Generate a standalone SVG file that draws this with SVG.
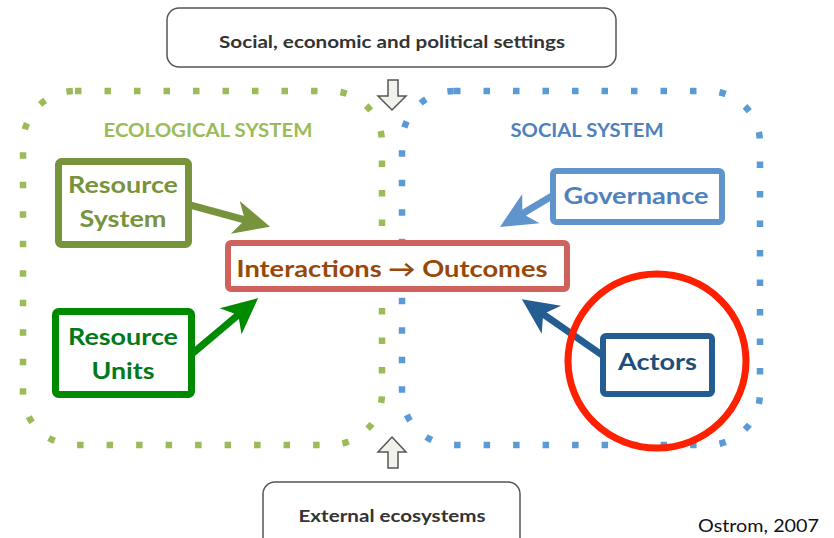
<svg xmlns="http://www.w3.org/2000/svg" width="834" height="538" viewBox="0 0 834 538">
<style>
.t{font-family:Lato,"Open Sans","Liberation Sans",sans-serif;font-weight:bold;text-anchor:middle}
.dot{fill:none;stroke-width:6.5;stroke-dasharray:6.5 23}
.box{fill:#fff}
.ctx{fill:#fff;stroke:#555;stroke-width:1.5}
.blk{fill:#f2f2ec;stroke:#555;stroke-width:1.5}
</style>
<defs>
<marker id="hOl" markerUnits="userSpaceOnUse" viewBox="-16 -18 40 36" markerWidth="40" markerHeight="36" refX="0" refY="0" orient="auto"><path d="M22,0 L-14,-17 L-4,0 L-14,17 Z" fill="#77933c"/></marker>
<marker id="hGr" markerUnits="userSpaceOnUse" viewBox="-16 -18 40 36" markerWidth="40" markerHeight="36" refX="0" refY="0" orient="auto"><path d="M22,0 L-14,-17 L-4,0 L-14,17 Z" fill="#008a00"/></marker>
<marker id="hGv" markerUnits="userSpaceOnUse" viewBox="-16 -18 40 36" markerWidth="40" markerHeight="36" refX="0" refY="0" orient="auto"><path d="M22,0 L-14,-17 L-4,0 L-14,17 Z" fill="#5f94cd"/></marker>
<marker id="hAc" markerUnits="userSpaceOnUse" viewBox="-16 -18 40 36" markerWidth="40" markerHeight="36" refX="0" refY="0" orient="auto"><path d="M22,0 L-14,-17 L-4,0 L-14,17 Z" fill="#235d92"/></marker>
</defs>
<rect width="834" height="538" fill="#fff"/>

<g id="ecological-system">
<rect class="dot" x="23" y="91" width="359" height="354" rx="52" stroke="#9bbb59"/>
<text class="t" x="208" y="137" font-size="19" fill="#9bbb59" textLength="209" lengthAdjust="spacingAndGlyphs">ECOLOGICAL SYSTEM</text>
</g>
<g id="social-system">
<rect class="dot" x="402" y="91" width="358" height="354" rx="52" stroke="#5b9bd5"/>
<text class="t" x="587" y="137" font-size="19" fill="#4f81bd" textLength="153" lengthAdjust="spacingAndGlyphs">SOCIAL SYSTEM</text>
</g>

<g id="settings">
<rect class="ctx" x="167" y="8" width="449" height="59" rx="12"/>
<text class="t" x="392" y="48" font-size="17" fill="#333" textLength="346" lengthAdjust="spacingAndGlyphs">Social, economic and political settings</text>
</g>
<g id="external-ecosystems">
<rect class="ctx" x="263" y="482" width="257" height="70" rx="12"/>
<text class="t" x="392" y="522" font-size="17" fill="#333" textLength="187" lengthAdjust="spacingAndGlyphs">External ecosystems</text>
</g>

<g id="connectors">
<path class="blk" d="M388,80 H398 V96 H406 L392,110 L378,96 H388 Z"/>
<path class="blk" d="M392,437 L406,452 H398 V468 H388 V452 H378 Z"/>
<line x1="190" y1="205" x2="248.8" y2="221" stroke="#77933c" stroke-width="7" marker-end="url(#hOl)"/>
<line x1="193" y1="353" x2="241.3" y2="312.3" stroke="#008a00" stroke-width="7" marker-end="url(#hGr)"/>
<line x1="552" y1="196" x2="518.9" y2="215.7" stroke="#5f94cd" stroke-width="7" marker-end="url(#hGv)"/>
<line x1="602" y1="355" x2="539.9" y2="311.8" stroke="#235d92" stroke-width="7" marker-end="url(#hAc)"/>
</g>

<g id="resource-system">
<rect class="box" x="58.5" y="161.5" width="130" height="83" rx="3" stroke="#77933c" stroke-width="7"/>
<text class="t" x="123" y="193" font-size="23" fill="#77933c" textLength="110" lengthAdjust="spacingAndGlyphs">Resource</text>
<text class="t" x="123" y="227" font-size="23" fill="#77933c" textLength="87" lengthAdjust="spacingAndGlyphs">System</text>
</g>
<g id="resource-units">
<rect class="box" x="55.5" y="311.5" width="136" height="83" rx="3" stroke="#008a00" stroke-width="7"/>
<text class="t" x="123" y="345" font-size="23" fill="#007a1a" textLength="110" lengthAdjust="spacingAndGlyphs">Resource</text>
<text class="t" x="123" y="379" font-size="23" fill="#007a1a" textLength="63" lengthAdjust="spacingAndGlyphs">Units</text>
</g>
<g id="interactions-outcomes">
<rect class="box" x="228" y="243" width="339" height="46" rx="3" stroke="#d0625e" stroke-width="6"/>
<text class="t" x="392" y="277" font-size="23" fill="#984807" textLength="311" lengthAdjust="spacingAndGlyphs">Interactions → Outcomes</text>
</g>
<g id="governance">
<rect class="box" x="553" y="171" width="169" height="51" rx="3" stroke="#5f94cd" stroke-width="6"/>
<text class="t" x="636" y="204" font-size="23" fill="#4f81bd" textLength="145" lengthAdjust="spacingAndGlyphs">Governance</text>
</g>
<g id="actors">
<rect class="box" x="603" y="336" width="109" height="58" rx="3" stroke="#235d92" stroke-width="6"/>
<text class="t" x="657.5" y="370" font-size="23" fill="#1f4e79" textLength="79" lengthAdjust="spacingAndGlyphs">Actors</text>
</g>
<g id="highlight">
<ellipse cx="657" cy="361" rx="89" ry="87" fill="none" stroke="#ff2000" stroke-width="7"/>
</g>
<text x="819" y="532" font-family="Lato,'Open Sans','Liberation Sans',sans-serif" font-size="17" fill="#111" text-anchor="end" textLength="121" lengthAdjust="spacingAndGlyphs">Ostrom, 2007</text>
</svg>
